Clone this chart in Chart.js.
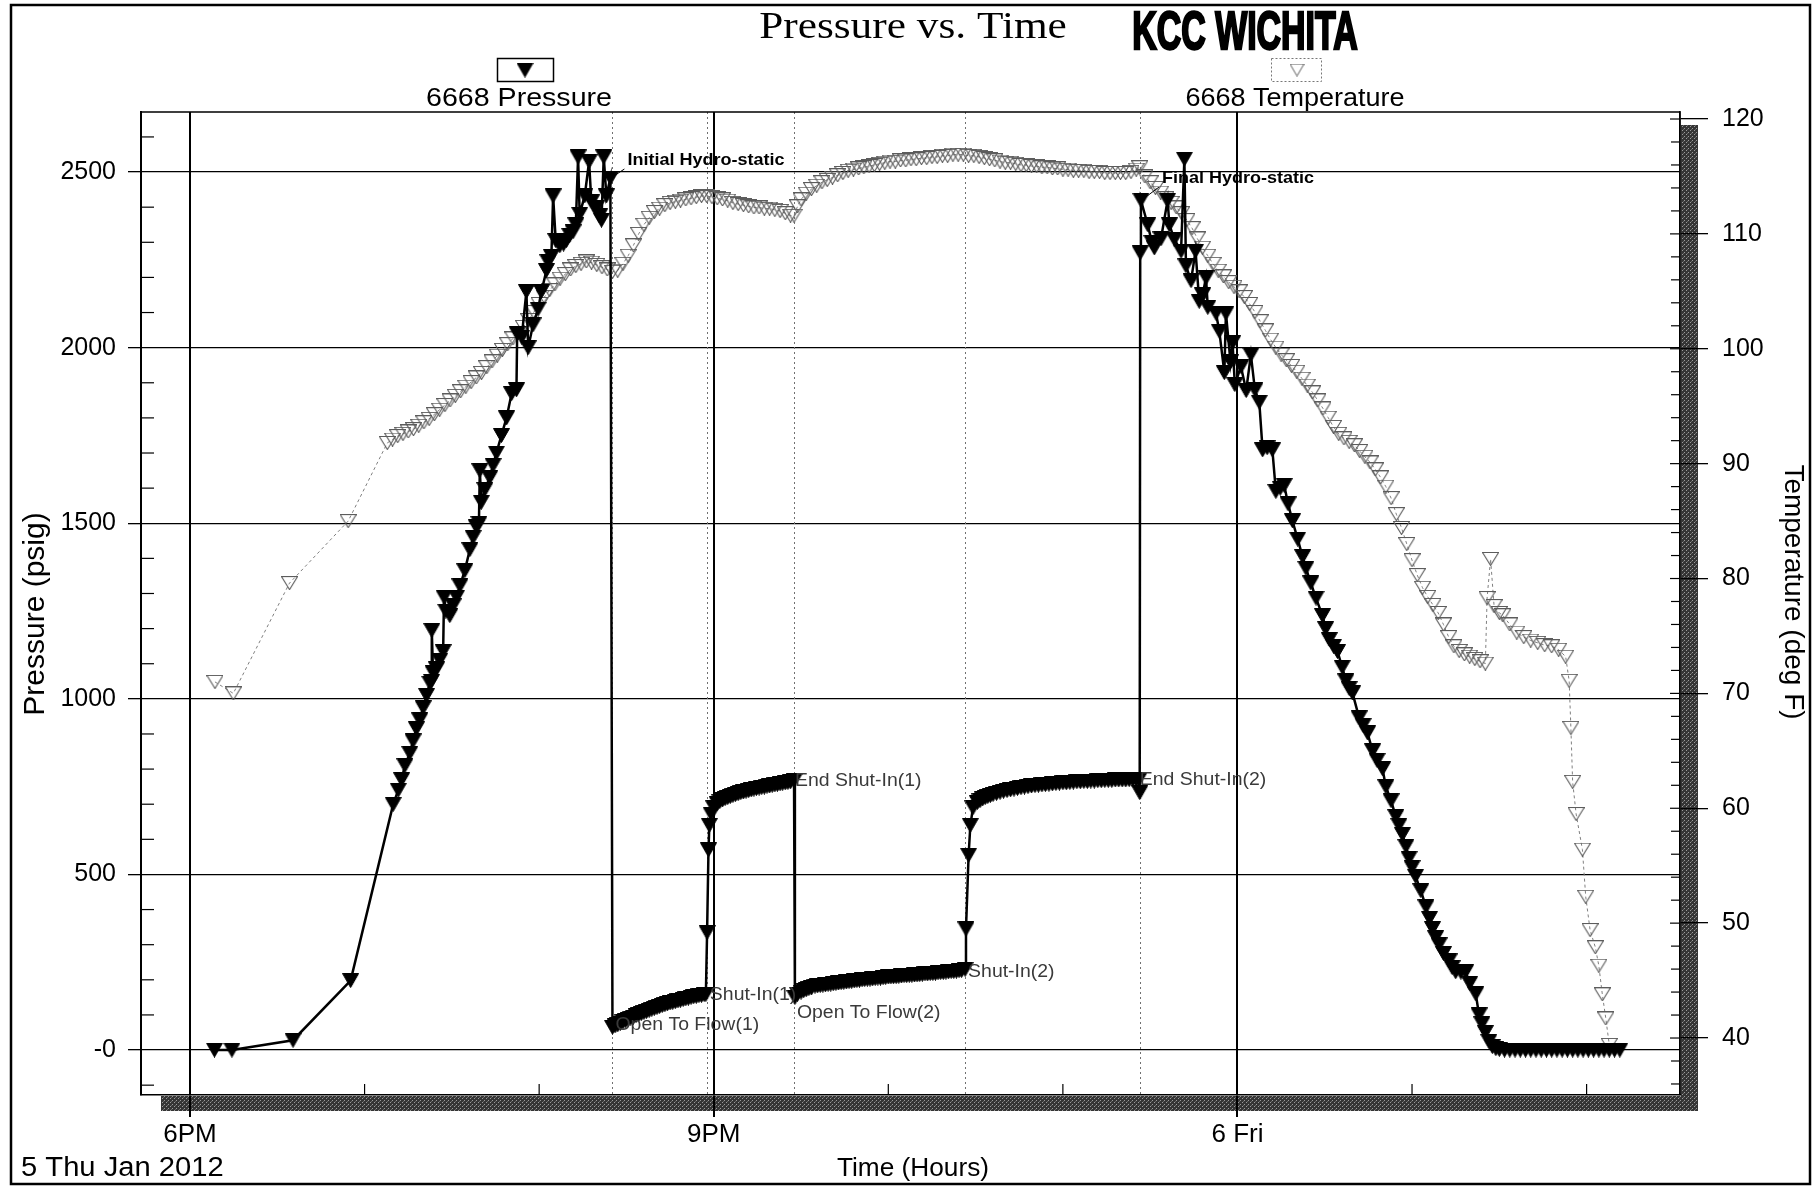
<!DOCTYPE html>
<html><head><meta charset="utf-8">
<script src="https://cdn.jsdelivr.net/npm/chart.js@4"></script>
<style>html,body{margin:0;padding:0;background:#fff}canvas{display:block}</style>
</head><body>
<canvas id="c" width="1820" height="1190"></canvas>
<script>
// ---------------- DATA (x = hours after 6PM, Thu 5 Jan 2012) ----------------
const xTickLabels = {0: '6PM', 3: '9PM', 6: '6 Fri'};
const pressureTickValues = [0, 500, 1000, 1500, 2000, 2500];
const tempTickValues = [40, 50, 60, 70, 80, 90, 100, 110, 120];

// Pressure (psig) as [hours, psig]
const pressureRunIn = [[0.14,0],[0.24,0],[0.59,28],[0.92,198]];
const pressureRise = [[1.164,700],[1.193,740],[1.212,770],[1.231,810],[1.259,845],[1.278,880],[1.297,915],[1.316,940],[1.336,975],[1.355,1010],[1.374,1045],[1.383,1050],[1.385,1195],[1.392,1075],[1.412,1085],[1.43,1110],[1.45,1135],[1.455,1290],[1.465,1250],[1.488,1237],[1.507,1265],[1.527,1290],[1.546,1322],[1.574,1365],[1.603,1425],[1.622,1460],[1.64,1490],[1.655,1500],[1.66,1650],[1.669,1560],[1.689,1596],[1.717,1630],[1.736,1665],[1.755,1700],[1.784,1750],[1.813,1800],[1.842,1869],[1.87,1880],[1.874,2040],[1.90,2030],[1.927,2160],[1.937,2000],[1.965,2065],[1.994,2110],[2.013,2160],[2.042,2220],[2.05,2245],[2.07,2260],[2.08,2432],[2.095,2305],[2.118,2290],[2.14,2295],[2.156,2305],[2.175,2320],[2.194,2330],[2.21,2350],[2.223,2543],[2.232,2380],[2.261,2432],[2.286,2530],[2.299,2415],[2.328,2398],[2.345,2375],[2.357,2363],[2.37,2543],[2.385,2432],[2.408,2483]];
const pressureFlow1 = [[2.42,65],[2.435,69],[2.45,72],[2.465,76],[2.48,80],[2.495,84],[2.51,87],[2.525,91],[2.54,94],[2.555,98],[2.57,101],[2.585,104],[2.60,107],[2.615,110],[2.63,113],[2.645,116],[2.66,119],[2.675,121],[2.69,124],[2.705,127],[2.72,129],[2.735,132],[2.75,134],[2.765,136],[2.78,138],[2.795,140],[2.81,142],[2.825,144],[2.84,146],[2.855,148],[2.87,150],[2.885,152],[2.90,153],[2.915,155],[2.93,156],[2.945,158],[2.955,159]];
const pressureBuildup1 = [[2.962,335],[2.97,570],[2.975,640],[2.985,672],[3.00,690],[3.02,702],[3.035,708],[3.05,712],[3.065,716],[3.08,719],[3.095,722],[3.11,725],[3.125,728],[3.14,730],[3.155,733],[3.17,735],[3.185,737],[3.20,739],[3.215,741],[3.23,743],[3.245,745],[3.26,746],[3.275,748],[3.29,749],[3.305,751],[3.32,752],[3.335,754],[3.35,755],[3.365,757],[3.38,758],[3.395,760],[3.41,761],[3.425,762],[3.44,764],[3.46,767]];
const pressureFlow2 = [[3.465,150],[3.48,159],[3.50,165],[3.515,169],[3.53,172],[3.545,175],[3.56,177],[3.58,182],[3.595,183],[3.61,184],[3.625,185],[3.64,186],[3.655,187],[3.67,188],[3.685,189],[3.70,190],[3.715,191],[3.73,192],[3.745,193],[3.76,194],[3.775,195],[3.79,196],[3.805,197],[3.82,198],[3.835,199],[3.85,200],[3.865,201],[3.88,202],[3.895,202],[3.91,203],[3.925,204],[3.94,205],[3.955,205],[3.97,206],[3.985,207],[4.00,208],[4.015,208],[4.03,209],[4.045,209],[4.06,210],[4.075,211],[4.09,212],[4.105,212],[4.12,213],[4.135,213],[4.15,214],[4.165,214],[4.18,215],[4.195,216],[4.21,217],[4.225,217],[4.24,218],[4.255,218],[4.27,219],[4.285,220],[4.30,221],[4.315,221],[4.33,222],[4.345,223],[4.36,224],[4.375,224],[4.39,225],[4.405,226],[4.42,227],[4.44,230]];
const pressureBuildup2 = [[4.445,345],[4.46,555],[4.47,640],[4.485,690],[4.51,705],[4.525,710],[4.54,715],[4.555,719],[4.57,722],[4.585,725],[4.60,728],[4.62,731],[4.64,734],[4.66,737],[4.68,739],[4.70,741],[4.72,743],[4.74,745],[4.76,747],[4.78,749],[4.80,750],[4.82,752],[4.84,753],[4.86,754],[4.88,755],[4.90,756],[4.92,757],[4.94,758],[4.96,759],[4.98,760],[5.00,761],[5.02,761],[5.04,762],[5.06,763],[5.08,764],[5.10,764],[5.12,765],[5.14,765],[5.16,766],[5.18,766],[5.20,767],[5.22,767],[5.24,768],[5.26,768],[5.28,768],[5.30,769],[5.32,769],[5.34,769],[5.36,769],[5.38,770],[5.40,770],[5.42,770],[5.435,770]];
const pressurePullOut = [[5.44,733],[5.443,2270],[5.447,2420],[5.486,2350],[5.51,2300],[5.524,2284],[5.562,2310],[5.60,2420],[5.61,2350],[5.638,2309],[5.677,2275],[5.696,2537],[5.705,2233],[5.734,2191],[5.76,2275],[5.781,2132],[5.80,2150],[5.82,2199],[5.83,2115],[5.877,2098],[5.896,2047],[5.925,1929],[5.934,2098],[5.96,1960],[5.972,2014],[5.985,1895],[6.02,1946],[6.05,1878],[6.077,1980],[6.10,1880],[6.125,1845],[6.144,1709],[6.17,1715],[6.20,1709],[6.22,1591],[6.245,1600],[6.268,1608],[6.29,1555],[6.315,1507],[6.345,1455],[6.373,1405],[6.392,1372],[6.42,1330],[6.45,1287],[6.487,1237],[6.505,1200],[6.526,1169],[6.55,1150],[6.573,1135],[6.60,1090],[6.621,1051],[6.64,1030],[6.659,1017],[6.697,946],[6.72,925],[6.745,903],[6.774,852],[6.80,825],[6.831,801],[6.85,750],[6.88,710],[6.907,665],[6.925,640],[6.945,614],[6.965,580],[6.983,546],[7.00,520],[7.02,495],[7.05,454],[7.08,408],[7.10,375],[7.117,346],[7.135,320],[7.155,300],[7.18,275],[7.212,254],[7.23,235],[7.25,223],[7.28,222],[7.307,223],[7.33,190],[7.365,160],[7.384,100],[7.40,75],[7.42,50],[7.44,25],[7.46,10],[7.48,4]];
const pressureSurface = [[7.50,2],[7.53,0],[7.56,0],[7.59,0],[7.62,0],[7.65,0],[7.68,0],[7.71,0],[7.74,0],[7.77,0],[7.80,0],[7.83,0],[7.86,0],[7.89,0],[7.92,0],[7.95,0],[7.98,0],[8.01,0],[8.04,0],[8.07,0],[8.10,0],[8.13,0],[8.16,0],[8.19,0]];

// Temperature (deg F) as [hours, degF]
const tempRunIn = [[0.143,71.0],[0.248,70.0],[0.57,79.6],[0.906,85.0]];
const tempToBottom = [[1.13,91.8],[1.16,92.1],[1.19,92.4],[1.22,92.6],[1.25,92.8],[1.28,93.0],[1.31,93.3],[1.34,93.6],[1.37,93.9],[1.40,94.3],[1.43,94.7],[1.46,95.1],[1.49,95.5],[1.52,95.9],[1.55,96.3],[1.58,96.7],[1.61,97.1],[1.64,97.5],[1.67,97.9],[1.70,98.4],[1.73,98.9],[1.76,99.4],[1.79,99.9],[1.82,100.4],[1.85,100.9],[1.88,101.4],[1.91,101.9],[1.94,102.5],[1.97,103.2],[2.00,103.9],[2.03,104.5],[2.06,105.1],[2.09,105.6],[2.12,106.1],[2.15,106.5],[2.18,106.9],[2.21,107.2],[2.24,107.4],[2.27,107.6],[2.30,107.5],[2.33,107.3],[2.36,107.1],[2.39,106.9],[2.42,106.7]];
const tempTest = [[2.45,106.8],[2.48,107.4],[2.51,108.1],[2.54,109.0],[2.57,110.0],[2.60,110.8],[2.63,111.4],[2.66,111.9],[2.69,112.2],[2.72,112.5],[2.75,112.7],[2.78,112.8],[2.81,112.9],[2.84,113.0],[2.87,113.1],[2.90,113.2],[2.93,113.3],[2.96,113.3],[2.99,113.2],[3.02,113.1],[3.05,113.0],[3.08,112.9],[3.11,112.7],[3.14,112.6],[3.17,112.5],[3.20,112.4],[3.23,112.3],[3.26,112.3],[3.29,112.2],[3.32,112.2],[3.35,112.1],[3.38,112.0],[3.41,111.8],[3.44,111.6],[3.46,111.6],[3.48,112.4],[3.50,113.0],[3.53,113.5],[3.56,113.9],[3.59,114.2],[3.62,114.5],[3.65,114.7],[3.68,114.9],[3.71,115.1],[3.74,115.3],[3.77,115.5],[3.80,115.6],[3.83,115.7],[3.86,115.8],[3.89,115.9],[3.92,116.0],[3.95,116.1],[3.98,116.2],[4.01,116.3],[4.04,116.3],[4.07,116.4],[4.10,116.4],[4.13,116.5],[4.16,116.5],[4.19,116.6],[4.22,116.6],[4.25,116.7],[4.28,116.7],[4.31,116.8],[4.34,116.8],[4.37,116.9],[4.40,116.9],[4.43,116.9],[4.46,116.8],[4.49,116.8],[4.52,116.7],[4.55,116.6],[4.58,116.5],[4.61,116.4],[4.64,116.3],[4.67,116.2],[4.70,116.2],[4.73,116.1],[4.76,116.0],[4.79,116.0],[4.82,115.9],[4.85,115.9],[4.88,115.8],[4.91,115.8],[4.94,115.7],[4.97,115.7],[5.00,115.6],[5.03,115.6],[5.06,115.5],[5.09,115.5],[5.12,115.5],[5.15,115.4],[5.18,115.4],[5.21,115.4],[5.24,115.3],[5.27,115.3],[5.30,115.3],[5.33,115.3],[5.36,115.3],[5.39,115.4],[5.42,115.6],[5.44,115.8]];
const tempPullOut = [[5.47,115.0],[5.50,114.5],[5.53,114.0],[5.56,113.6],[5.59,113.1],[5.62,112.7],[5.65,112.3],[5.68,111.8],[5.71,111.2],[5.74,110.5],[5.77,109.6],[5.80,108.8],[5.83,108.1],[5.86,107.4],[5.89,106.8],[5.92,106.3],[5.95,105.8],[5.98,105.4],[6.01,105.0],[6.04,104.5],[6.07,103.9],[6.10,103.2],[6.13,102.4],[6.16,101.6],[6.19,100.8],[6.22,100.1],[6.25,99.5],[6.28,99.0],[6.31,98.5],[6.34,98.0],[6.37,97.4],[6.40,96.8],[6.43,96.2],[6.46,95.5],[6.49,94.8],[6.52,94.0],[6.55,93.2],[6.58,92.6],[6.61,92.2],[6.64,91.9],[6.67,91.6],[6.70,91.1],[6.73,90.6],[6.76,90.1],[6.79,89.5],[6.82,88.8],[6.85,88.0],[6.88,87.0],[6.91,85.6],[6.94,84.4],[6.97,83.0],[7.00,81.6],[7.03,80.3],[7.06,79.2],[7.09,78.4],[7.12,77.7],[7.15,77.0],[7.18,76.0],[7.21,74.9],[7.24,74.1],[7.27,73.7],[7.30,73.4],[7.33,73.2],[7.36,73.0],[7.39,72.8],[7.42,72.6],[7.43,78.3],[7.45,81.7],[7.47,77.6],[7.50,77.0],[7.52,76.8],[7.56,76.0],[7.60,75.3],[7.64,74.9],[7.68,74.6],[7.72,74.4],[7.76,74.2],[7.80,74.1],[7.84,73.8],[7.88,73.2],[7.90,71.1],[7.91,67.0],[7.92,62.3],[7.94,59.5],[7.976,56.4],[7.995,52.3],[8.02,49.4],[8.05,47.9],[8.07,46.3],[8.09,43.8],[8.11,41.7],[8.13,39.4]];

// Test events and their labels: [label, hours, psig anchor, dx, dy]
const eventHours = [2.42, 2.96, 3.46, 4.44, 5.44];
const eventLabels = [
  ['Open To Flow(1)', 2.42, 65, 3, 3],
  ['Shut-In(1)', 2.955, 159, 4, 6],
  ['End Shut-In(1)', 3.46, 767, 1, 5],
  ['Open To Flow(2)', 3.465, 150, 2, 21],
  ['Shut-In(2)', 4.44, 230, 3, 8],
  ['End Shut-In(2)', 5.435, 770, 1, 5]
];
const hydroLabels = [
  ['Initial Hydro-static', 2.408, 2483, 17, -13],
  ['Final Hydro-static', 5.447, 2420, 21, -17]
];

// ---------------- CHART ----------------
const FONT = '"Liberation Sans", Arial, sans-serif';
const toXY = a => a.map(([x, y]) => ({x, y}));
const pressureData = toXY([].concat(pressureRunIn, pressureRise, pressureFlow1, pressureBuildup1, pressureFlow2, pressureBuildup2, pressurePullOut, pressureSurface));
const tempData = toXY([].concat(tempRunIn, tempToBottom, tempTest, tempPullOut));

function makeMarker(w, h, fill, stroke, lw) {
  const c = document.createElement('canvas'); c.width = w; c.height = h;
  const g = c.getContext('2d');
  g.beginPath(); g.moveTo(0.5, 0.5); g.lineTo(w - 0.5, 0.5); g.lineTo(w / 2, h - 0.5); g.closePath();
  if (fill) { g.fillStyle = fill; g.fill(); }
  if (stroke) { g.strokeStyle = stroke; g.lineWidth = lw || 1; g.stroke(); }
  return c;
}
const pMarker = makeMarker(17, 15, '#000', '#000');
const tMarker = makeMarker(17, 14, null, '#5c5c5c', 1.1);

const pat = document.createElement('canvas'); pat.width = 4; pat.height = 4;
(function(){ const g = pat.getContext('2d'); g.fillStyle = '#353535'; g.fillRect(0,0,4,4);
  g.fillStyle = '#9a9a9a'; g.fillRect(0,0,1,1); g.fillRect(2,2,1,1); g.fillStyle='#666'; g.fillRect(3,1,1,1); })();

function txt(ctx, s, x, y, font, color, align, sx, rot, base) {
  ctx.save(); ctx.translate(x, y); if (rot) ctx.rotate(rot); ctx.scale(sx || 1, 1);
  ctx.font = font; ctx.fillStyle = color; ctx.textAlign = align || 'left';
  ctx.textBaseline = base || 'alphabetic'; ctx.fillText(s, 0, 0); ctx.restore();
}

const decor = {
  id: 'decor',
  beforeDraw(chart) {
    const {ctx, chartArea: a} = chart;
    ctx.save();
    ctx.fillStyle = '#fff'; ctx.fillRect(0, 0, chart.width, chart.height);
    ctx.fillStyle = ctx.createPattern(pat, 'repeat');
    ctx.fillRect(a.right + 1, a.top + 13, 17, a.bottom + 16 - (a.top + 13));
    ctx.fillRect(a.left + 20, a.bottom + 1, a.right + 18 - (a.left + 20), 15);
    ctx.strokeStyle = '#000'; ctx.lineWidth = 2.5; ctx.strokeRect(11, 5, 1799, 1179);
    ctx.restore();
  },
  beforeDatasetsDraw(chart) {
    const {ctx, chartArea: a, scales} = chart;
    const xs = scales.x, ys = scales.y, ts = scales.y1;
    ctx.save();
    ctx.strokeStyle = '#707070'; ctx.lineWidth = 1; ctx.setLineDash([2, 3]);
    eventHours.forEach(h => { const X = Math.round(xs.getPixelForValue(h)) + 0.5;
      ctx.beginPath(); ctx.moveTo(X, a.top); ctx.lineTo(X, a.bottom); ctx.stroke(); });
    ctx.setLineDash([]);
    ctx.strokeStyle = '#000'; ctx.lineWidth = 1.5;
    ctx.beginPath(); ctx.moveTo(a.left, a.top); ctx.lineTo(a.right, a.top); ctx.lineTo(a.right, a.bottom); ctx.stroke();
    ctx.lineWidth = 1.2;
    for (let v = -100; v <= 2600; v += 100) { if (v % 500 === 0) continue;
      const Y = ys.getPixelForValue(v); ctx.beginPath(); ctx.moveTo(a.left, Y); ctx.lineTo(a.left + 13, Y); ctx.stroke(); }
    for (let t = 36; t <= 120; t += 2) { const Y = ts.getPixelForValue(t);
      ctx.beginPath(); ctx.moveTo(a.right - (t % 10 === 0 ? 10 : 9), Y); ctx.lineTo(a.right, Y); ctx.stroke(); }
    for (let h = 0; h <= 8; h++) { if (h % 3 === 0) continue; const X = xs.getPixelForValue(h);
      ctx.beginPath(); ctx.moveTo(X, a.bottom); ctx.lineTo(X, a.bottom - 11); ctx.stroke(); }
    ctx.restore();
  },
  afterDraw(chart) {
    const {ctx, scales} = chart;
    const xs = scales.x, ys = scales.y;
    txt(ctx, 'Pressure vs. Time', 913, 38, '38px "Liberation Serif", "Times New Roman", serif', '#000', 'center', 1.14);
    ctx.save(); ctx.translate(1245, 49); ctx.scale(0.64, 1);
    ctx.font = 'bold 53px ' + FONT; ctx.textAlign = 'center'; ctx.fillStyle = '#000';
    ctx.strokeStyle = '#000'; ctx.lineWidth = 2.5; ctx.fillText('KCC WICHITA', 0, 0); ctx.strokeText('KCC WICHITA', 0, 0); ctx.restore();
    ctx.save();
    ctx.strokeStyle = '#000'; ctx.lineWidth = 1.5; ctx.strokeRect(497.5, 58.5, 56, 23);
    ctx.drawImage(pMarker, 525 - 8.5, 70 - 7.5);
    ctx.strokeStyle = '#777'; ctx.lineWidth = 1; ctx.setLineDash([2, 2]); ctx.strokeRect(1271.5, 58.5, 50, 23); ctx.setLineDash([]);
    ctx.drawImage(makeMarker(15, 13, null, '#5a5a5a'), 1297 - 7.5, 70 - 6.5);
    ctx.restore();
    txt(ctx, '6668 Pressure', 519, 106, '26px ' + FONT, '#000', 'center', 1.1);
    txt(ctx, '6668 Temperature', 1295, 106, '25px ' + FONT, '#000', 'center', 1.08);
    txt(ctx, 'Pressure (psig)', 36, 614, '30px ' + FONT, '#000', 'center', 1, -Math.PI / 2, 'middle');
    txt(ctx, 'Temperature (deg F)', 1793, 592, '28px ' + FONT, '#000', 'center', 1, Math.PI / 2, 'middle');
    txt(ctx, 'Time (Hours)', 913, 1176, '25px ' + FONT, '#000', 'center', 1.05);
    txt(ctx, '5 Thu Jan 2012', 21, 1176, '27px ' + FONT, '#000', 'left', 1.08);
    eventLabels.forEach(([s, h, p, dx, dy]) => {
      txt(ctx, s, xs.getPixelForValue(h) + dx, ys.getPixelForValue(p) + dy, '18px ' + FONT, '#3a3a3a', 'left', 1.08);
    });
    hydroLabels.forEach(([s, h, p, dx, dy]) => {
      const X = xs.getPixelForValue(h), Y = ys.getPixelForValue(p);
      ctx.save(); ctx.strokeStyle = '#000'; ctx.lineWidth = 1; ctx.beginPath();
      ctx.moveTo(X + 2, Y - 1); ctx.lineTo(X + dx - 3, Y + dy + 4); ctx.stroke(); ctx.restore();
      txt(ctx, s, X + dx, Y + dy, 'bold 17px ' + FONT, '#000', 'left', 1.06);
    });
  }
};

new Chart(document.getElementById('c'), {
  type: 'line',
  data: {
    datasets: [
      { label: '6668 Pressure', data: pressureData, yAxisID: 'y', order: 0,
        borderColor: '#000', borderWidth: 2.5, tension: 0,
        pointStyle: pMarker, pointRadius: 7, pointHoverRadius: 7 },
      { label: '6668 Temperature', data: tempData, yAxisID: 'y1', order: 1,
        borderColor: '#808080', borderWidth: 1, borderDash: [3, 3], tension: 0,
        pointStyle: tMarker, pointRadius: 6, pointHoverRadius: 6 }
    ]
  },
  options: {
    responsive: false, animation: false, devicePixelRatio: 1,
    layout: { padding: { top: 112, left: 0, right: 0, bottom: 0 } },
    plugins: { legend: { display: false }, tooltip: { enabled: false }, title: { display: false } },
    events: [],
    scales: {
      x: {
        type: 'linear', min: -0.2807, max: 8.535,
        afterFit: s => { s.height = 95; },
        border: { display: true, color: '#000', width: 1.5 },
        grid: { color: c => (c.tick && c.tick.value % 3 === 0) ? '#000' : 'rgba(0,0,0,0)', lineWidth: 2, tickLength: 22, drawTicks: true },
        ticks: { stepSize: 1, includeBounds: false, autoSkip: false, maxRotation: 0, padding: 2, color: '#000',
          font: { family: FONT, size: 26 }, callback: v => xTickLabels[v] !== undefined ? xTickLabels[v] : '' }
      },
      y: {
        position: 'left', min: -128, max: 2671,
        afterFit: s => { s.width = 141; },
        afterBuildTicks: s => { s.ticks = pressureTickValues.map(v => ({value: v})); },
        border: { display: true, color: '#000', width: 2 },
        grid: { color: '#000', lineWidth: 1.3, tickLength: 13 },
        ticks: { padding: 12, color: '#000', autoSkip: false,
          font: { family: FONT, size: 25 }, callback: v => v === 0 ? '-0' : String(v) }
      },
      y1: {
        position: 'right', min: 35.04, max: 120.61,
        afterFit: s => { s.width = 140; },
        afterBuildTicks: s => { s.ticks = tempTickValues.map(v => ({value: v})); },
        border: { display: true, color: '#000', width: 1.5 },
        grid: { drawOnChartArea: false, color: '#000', lineWidth: 1.3, tickLength: 28 },
        ticks: { padding: 14, color: '#000', autoSkip: false, font: { family: FONT, size: 25 } }
      }
    }
  },
  plugins: [decor]
});
</script>
</body></html>
